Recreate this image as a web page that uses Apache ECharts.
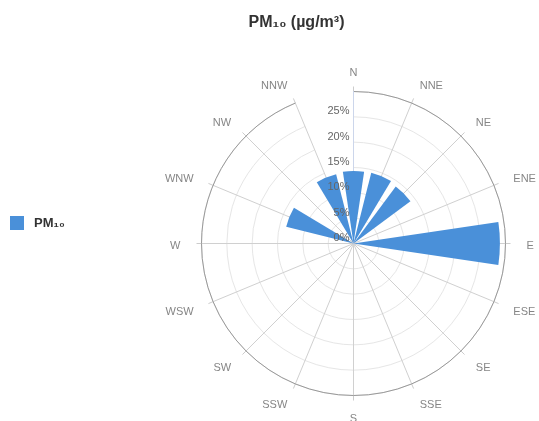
<!DOCTYPE html>
<html>
<head>
<meta charset="utf-8">
<script src="https://cdn.jsdelivr.net/npm/echarts@6/dist/echarts.min.js"></script>
<style>html,body{margin:0;padding:0;background:#fff}#c{width:539px;height:421px}</style>
</head>
<body>
<div id="c"></div>
<script>
const titleText = 'PM\u2081\u2080 (\u00b5g/m\u00b3)';
const seriesName = 'PM\u2081\u2080';
const directions = ['N','NNE','NE','ENE','E','ESE','SE','SSE','S','SSW','SW','WSW','W','WNW','NW','NNW'];
const pm10 = [14.3,14.4,14.0,0,28.9,0,0,0,0,0,0,0,0,13.7,0,14.1];
const radiusTicks = [0,5,10,15,20,25];

const FONT = 'Liberation Sans, Arial, sans-serif';
const CENTER = [353.5,243.5];
const R = 152;
const hiddenAngle = (i) => ({polarIndex:i, type:'category', data:directions, startAngle:90, boundaryGap:false, show:false});
const hiddenRadius = (i, max) => ({polarIndex:i, type:'value', min:0, max:max, show:false});

// direction labels placed outside the circle (left / right / center aligned by side)
const labelData = directions.map(function(d, i){
  const deg = i * 360 / directions.length;
  let align = 'center';
  if (deg > 20 && deg < 160) align = 'left';
  else if (deg > 200 && deg < 340) align = 'right';
  return {value:[1, d], label:{align:align}};
});

const chart = echarts.init(document.getElementById('c'), null, {renderer:'canvas'});
chart.setOption({
  backgroundColor:'#ffffff',
  animation:false,
  title:{
    text:titleText, left:291.5, top:10, textAlign:'center',
    textStyle:{fontFamily:FONT, fontSize:16, fontWeight:'bold', color:'#333333'}
  },
  legend:{
    left:5, top:211, orient:'vertical', icon:'rect', itemWidth:14, itemHeight:14,
    data:[seriesName],
    textStyle:{fontFamily:FONT, fontSize:13, fontWeight:'bold', color:'#333333', padding:[0,0,0,5]}
  },
  polar:[
    {center:CENTER, radius:R},
    {center:CENTER, radius:R},
    {center:CENTER, radius:R},
    {center:CENTER, radius:173}
  ],
  angleAxis:[
    {
      polarIndex:0, type:'category', data:directions, startAngle:90, clockwise:true, boundaryGap:false,
      axisLine:{show:true, lineStyle:{color:'#999999', width:1}},
      axisTick:{show:true, length:5, lineStyle:{color:'#cccccc'}},
      axisLabel:{show:false},
      splitLine:{show:true, lineStyle:{color:'#d0d0d0', width:1}},
      z:1
    },
    hiddenAngle(1),
    hiddenAngle(2),
    hiddenAngle(3)
  ],
  radiusAxis:[
    {
      polarIndex:0, type:'value', min:0, max:30, interval:5,
      axisLine:{show:false}, axisTick:{show:false}, axisLabel:{show:false},
      splitLine:{show:true, lineStyle:{color:'#e6e6e6', width:1}},
      z:0
    },
    {
      polarIndex:1, type:'value', min:0, max:30, interval:5,
      axisLine:{show:true, lineStyle:{color:'#ccd6eb', width:1}},
      axisTick:{show:false}, axisLabel:{show:false}, splitLine:{show:false},
      z:1.5
    },
    {
      polarIndex:2, type:'value', min:0, max:30, interval:5,
      axisLine:{show:false}, axisTick:{show:false}, splitLine:{show:false},
      axisLabel:{
        margin:4, verticalAlign:'bottom', color:'#666666', fontSize:11, fontFamily:FONT,
        formatter:function(v){ return radiusTicks.indexOf(v) >= 0 ? v + '%' : ''; }
      },
      z:10
    },
    hiddenRadius(3, 1)
  ],
  series:[
    {
      name:seriesName, type:'bar', coordinateSystem:'polar', polarIndex:0, data:pm10,
      barCategoryGap:'25%', itemStyle:{color:'#4a90d9'}, z:2
    },
    {
      name:'dirLabels', type:'scatter', coordinateSystem:'polar', polarIndex:3,
      data:labelData, symbolSize:0, silent:true, z:10,
      label:{
        show:true, position:'inside', verticalAlign:'middle', offset:[0,2],
        formatter:function(p){ return p.value[1]; },
        color:'#666666', fontSize:11, fontFamily:FONT
      }
    }
  ]
});
</script>
</body>
</html>
